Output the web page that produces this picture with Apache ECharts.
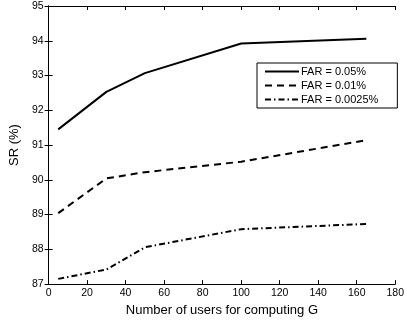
<!DOCTYPE html>
<html><head><meta charset="utf-8">
<script src="https://cdn.jsdelivr.net/npm/echarts@6/dist/echarts.min.js"></script>
<style>html,body{margin:0;padding:0;background:#fff}#c{width:407px;height:322px}</style>
</head><body><div id="c"></div>
<script>
const users = [5, 30, 50, 100, 165];
const far005 = [91.45, 92.53, 93.07, 93.92, 94.06];
const far001 = [89.04, 90.04, 90.22, 90.52, 91.14];
const far00025 = [87.15, 87.42, 88.06, 88.58, 88.73];
const seriesNames = ['FAR = 0.05%', 'FAR = 0.01%', 'FAR = 0.0025%'];
const xTicks = [0, 20, 40, 60, 80, 100, 120, 140, 160, 180];
const yTicks = [87, 88, 89, 90, 91, 92, 93, 94, 95];

const font = 'Liberation Sans, Arial, sans-serif';
const axisCommon = {
  axisLine: {show: true, lineStyle: {color: '#000', width: 1}},
  axisTick: {show: true, inside: true, length: 4, lineStyle: {color: '#000'}},
  splitLine: {show: false}
};
const chart = echarts.init(document.getElementById('c'));
const mk = (name, ys, type, w) => ({
  name, type: 'line', data: users.map((u, i) => [u, ys[i]]),
  symbol: 'none', lineStyle: {color: '#000', width: w, type},
  itemStyle: {color: '#000'}, animation: false
});
chart.setOption({
  animation: false,
  grid: {left: 45, right: 8, top: 6, bottom: 37},
  legend: {
    orient: 'vertical', left: 257, top: 63,
    data: seriesNames,
    backgroundColor: '#fff', borderColor: '#000', borderWidth: 1,
    padding: [3, 19, 3, 7], itemGap: 3, itemWidth: 34, itemHeight: 12,
    itemStyle: {color: 'rgba(0,0,0,0)', borderWidth: 0, opacity: 0},
    textStyle: {fontFamily: font, fontSize: 11, color: '#000', padding: [0, 0, 0, -3]}
  },
  xAxis: [
    Object.assign({type: 'value', min: 0, max: 180, interval: 20, position: 'bottom',
      name: 'Number of users for computing G', nameLocation: 'middle', nameGap: 19,
      nameTextStyle: {fontFamily: font, fontSize: 13, color: '#000'},
      axisLabel: {fontFamily: font, fontSize: 10.5, color: '#000', margin: 4}}, axisCommon),
    Object.assign({type: 'value', min: 0, max: 180, interval: 20, position: 'top',
      axisLabel: {show: false}}, axisCommon)
  ],
  yAxis: [
    Object.assign({type: 'value', min: 87, max: 95, interval: 1, position: 'left',
      name: 'SR (%)', nameLocation: 'middle', nameGap: 22, nameRotate: 90,
      nameTextStyle: {fontFamily: font, fontSize: 13, color: '#000'},
      axisLabel: {fontFamily: font, fontSize: 10.5, color: '#000', margin: 5}}, axisCommon),
    Object.assign({type: 'value', min: 87, max: 95, interval: 1, position: 'right',
      axisLabel: {show: false}}, axisCommon)
  ],
  series: [
    mk(seriesNames[0], far005, 'solid', 2),
    mk(seriesNames[1], far001, [7, 5], 2),
    mk(seriesNames[2], far00025, [6, 3, 1.5, 3], 2)
  ]
});
</script></body></html>
